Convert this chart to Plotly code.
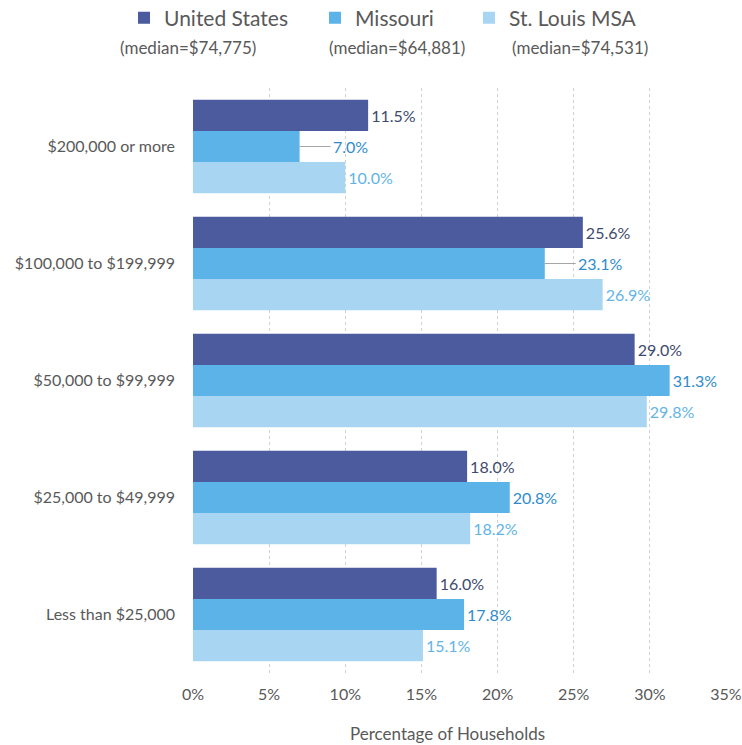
import plotly.graph_objects as go

categories = ["$200,000 or more", "$100,000 to $199,999", "$50,000 to $99,999",
              "$25,000 to $49,999", "Less than $25,000"]
series_names = ["United States", "Missouri", "St. Louis MSA"]
medians = ["(median=$74,775)", "(median=$64,881)", "(median=$74,531)"]
us_vals = [11.5, 25.6, 29.0, 18.0, 16.0]
mo_vals = [7.0, 23.1, 31.3, 20.8, 17.8]
msa_vals = [10.0, 26.9, 29.8, 18.2, 15.1]
tick_vals = [0, 5, 10, 15, 20, 25, 30, 35]
tick_text = ["0%", "5%", "10%", "15%", "20%", "25%", "30%", "35%"]

# Missouri labels that sit off the bar end with a leader line
mo_callouts = {"$200,000 or more", "$100,000 to $199,999"}

bar_colors = ["#4c5a9e", "#5bb3e8", "#a8d5f2"]
label_colors = ["#404a6e", "#2f8ccc", "#62b4e6"]
FONT = "Lato, 'Open Sans', sans-serif"
GRAY = "#595959"
W, H = 742, 745
ML, MR, MT, MB = 193, 16, 88, 72
PW, PH = W - ML - MR, H - MT - MB


def px_to_paper(px, py):
    return (px - ML) / PW, (H - MB - py) / PH


fig = go.Figure()
all_vals = [us_vals, mo_vals, msa_vals]
for i, (name, vals) in enumerate(zip(series_names, all_vals)):
    texts = []
    for c, v in zip(categories, vals):
        if i == 1 and c in mo_callouts:
            texts.append("")
        else:
            texts.append(f"{v:.1f}%")
    fig.add_trace(go.Bar(
        y=categories, x=vals, orientation="h", name=name,
        marker=dict(color=bar_colors[i], line=dict(width=0)),
        text=texts, textposition="outside", cliponaxis=False,
        textfont=dict(family=FONT, size=16, color=label_colors[i]),
        legend=["legend", "legend2", "legend3"][i], showlegend=True,
        hoverinfo="x+y",
    ))

# Callout labels with leader lines for the shifted Missouri values
for c, v in zip(categories, mo_vals):
    if c in mo_callouts:
        fig.add_annotation(
            x=v, y=c, xref="x", yref="y", text=f"{v:.1f}%",
            showarrow=True, arrowhead=0, arrowwidth=1, arrowcolor="#a6a6a6",
            ax=31, ay=0, xanchor="left", standoff=0, startstandoff=0,
            font=dict(family=FONT, size=16, color=label_colors[1]),
        )

# Median notes under each legend entry
median_x = [188, 397, 580]
for txt, px in zip(medians, median_x):
    ax_, ay_ = px_to_paper(px, 47)
    fig.add_annotation(
        x=ax_, y=ay_, xref="paper", yref="paper",
        text=txt, showarrow=False, xanchor="center", yanchor="middle",
        font=dict(family=FONT, size=17, color=GRAY),
    )

# Axis title
tx, ty = px_to_paper(447, 733)
fig.add_annotation(
    x=tx, y=ty, xref="paper", yref="paper",
    text="Percentage of Households", showarrow=False,
    xanchor="center", yanchor="middle",
    font=dict(family=FONT, size=17, color=GRAY),
)

legend_common = dict(orientation="h", yanchor="middle", xanchor="left",
                     xref="container", yref="container", y=1 - 18 / H,
                     bgcolor="rgba(0,0,0,0)", font=dict(family=FONT, size=21, color=GRAY),
                     itemwidth=30, tracegroupgap=0, visible=True)
leg_px = [124, 315, 469]
fig.update_layout(
    width=W, height=H, showlegend=True,
    margin=dict(l=ML, r=MR, t=MT, b=MB),
    paper_bgcolor="white", plot_bgcolor="white",
    barmode="group", bargap=0.2, bargroupgap=0,
    font=dict(family=FONT, size=16, color=GRAY),
    xaxis=dict(range=[0, 35], tickvals=tick_vals, ticktext=tick_text, automargin=False,
               showgrid=True, gridcolor="#d0d0d0", griddash="dot", gridwidth=1,
               zeroline=False, showline=False, ticks="", ticklabelstandoff=10,
               tickfont=dict(family=FONT, size=16, color=GRAY)),
    yaxis=dict(autorange="reversed", showgrid=False, ticks="", ticklabelstandoff=17,
               automargin=False, tickfont=dict(family=FONT, size=16, color=GRAY)),
    legend=dict(x=leg_px[0] / W, **legend_common),
    legend2=dict(x=leg_px[1] / W, **legend_common),
    legend3=dict(x=leg_px[2] / W, **legend_common),
)

fig.write_html("out.html")
